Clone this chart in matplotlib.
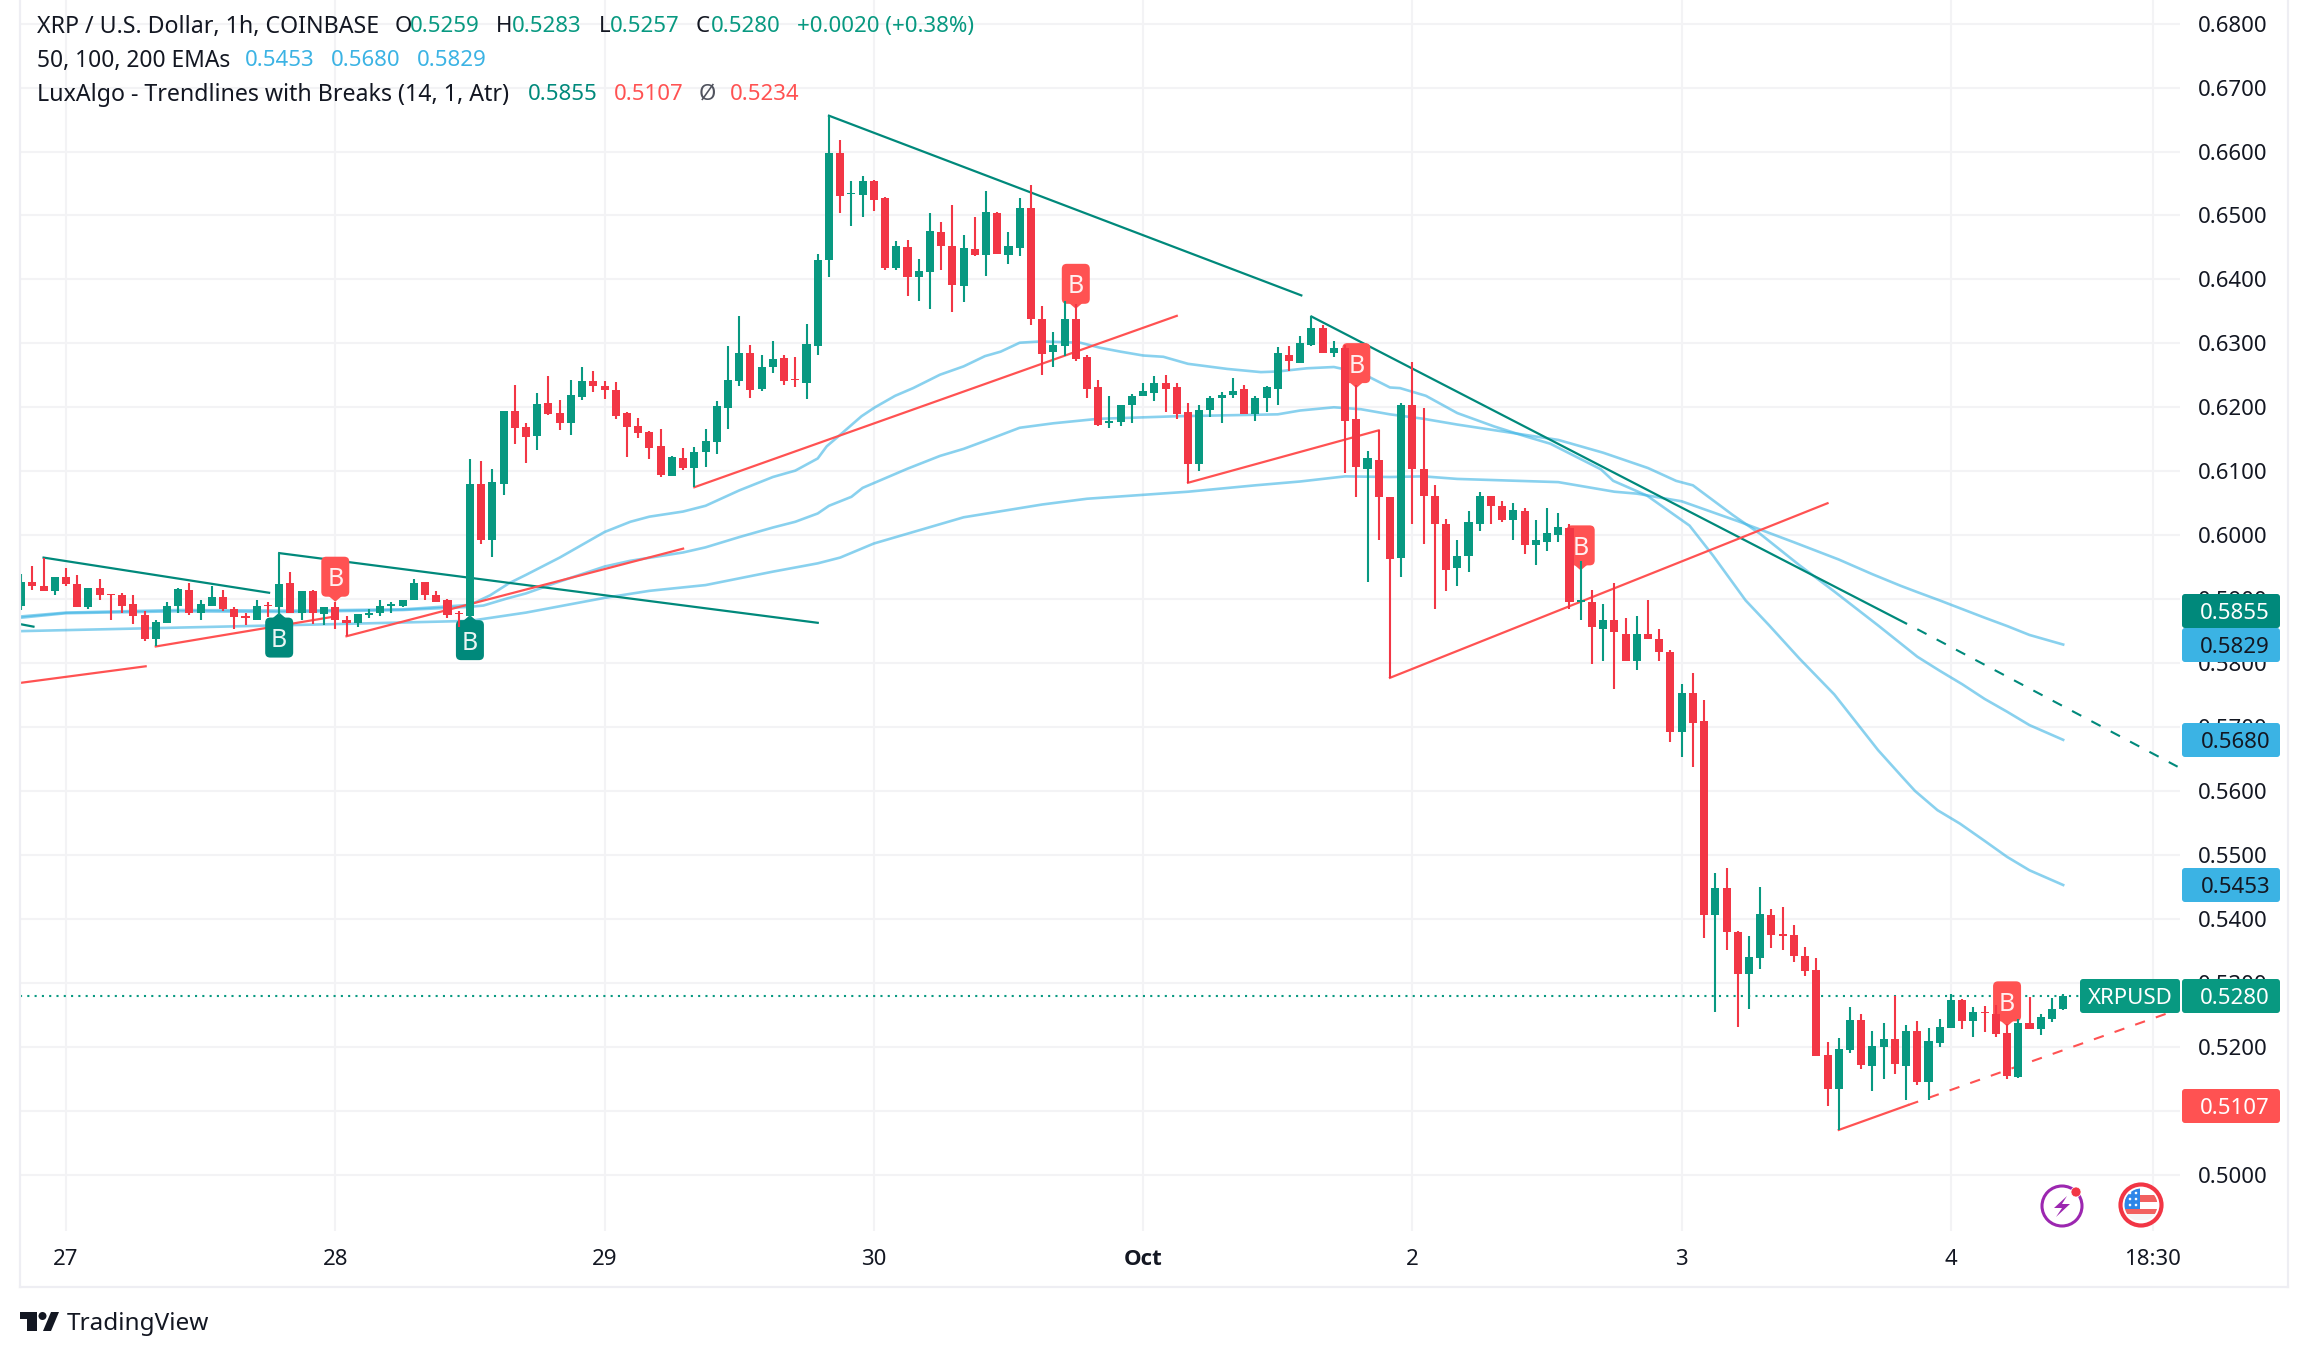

import numpy as np
import matplotlib
matplotlib.use("Agg")
import matplotlib.pyplot as plt
from matplotlib.patches import FancyBboxPatch, Polygon, Circle, Rectangle
from matplotlib.lines import Line2D
from matplotlib.transforms import IdentityTransform

plt.rcParams['font.family'] = ['Noto Sans', 'DejaVu Sans']

W, H = 2308, 1357

# hourly bars, 0 = start of the 27th
first_bar = -4
opens = [.5890, .5927, .5921, .5912, .5934, .5924, .5887, .5918, .5908, .5906,
         .5893, .5875, .5837, .5862, .5889, .5915, .5878, .5890, .5904, .5885,
         .5873, .5868, .5891, .5887, .5926, .5879, .5913, .5876, .5887, .5868,
         .5862, .5875, .5878, .5890, .5889, .5898, .5927, .5907, .5898, .5879,
         .5873, .6080, .5992, .6080, .6194, .6169, .6155, .6207, .6191, .6176,
         .6216, .6241, .6234, .6227, .6191, .6171, .6162, .6140, .6093, .6121,
         .6105, .6130, .6146, .6199, .6241, .6285, .6229, .6263, .6277, .6244,
         .6238, .6296, .6431, .6598, .6533, .6532, .6554, .6528, .6418, .6451,
         .6403, .6412, .6474, .6453, .6390, .6448, .6438, .6504, .6438, .6449,
         .6512, .6338, .6287, .6296, .6338, .6278, .6232, .6176, .6177, .6204,
         .6218, .6223, .6238, .6231, .6192, .6112, .6195, .6214, .6220, .6228,
         .6190, .6214, .6228, .6282, .6270, .6298, .6324, .6285, .6292, .6182,
         .6103, .6118, .6059, .5965, .6203, .6103, .6062, .6017, .5948, .5967,
         .6018, .6062, .6046, .6023, .6038, .5984, .5990, .6001, .6012, .5896,
         .5895, .5854, .5868, .5846, .5804, .5846, .5837, .5817, .5693, .5754,
         .5710, .5406, .5448, .5379, .5314, .5339, .5406, .5376, .5375, .5342,
         .5320, .5187, .5134, .5195, .5242, .5170, .5199, .5212, .5170, .5224,
         .5145, .5206, .5229, .5273, .5240, .5255, .5251, .5221, .5153, .5237,
         .5228, .5243, .5259]
closes = [.5927, .5920, .5912, .5935, .5924, .5887, .5918, .5906, .5906, .5889,
          .5873, .5837, .5864, .5890, .5916, .5878, .5892, .5903, .5884, .5872,
          .5871, .5890, .5890, .5924, .5879, .5913, .5878, .5887, .5867, .5862,
          .5876, .5879, .5889, .5892, .5899, .5926, .5906, .5896, .5875, .5877,
          .6080, .5992, .6083, .6194, .6168, .6154, .6205, .6190, .6176, .6219,
          .6241, .6234, .6227, .6187, .6169, .6160, .6136, .6094, .6122, .6105,
          .6130, .6147, .6202, .6243, .6285, .6227, .6263, .6276, .6241, .6242,
          .6299, .6431, .6598, .6531, .6535, .6554, .6524, .6418, .6453, .6403,
          .6413, .6476, .6453, .6392, .6449, .6438, .6506, .6440, .6453, .6512,
          .6338, .6284, .6298, .6338, .6276, .6229, .6173, .6179, .6204, .6218,
          .6226, .6238, .6229, .6190, .6112, .6196, .6214, .6220, .6226, .6190,
          .6215, .6231, .6285, .6273, .6301, .6324, .6285, .6293, .6179, .6106,
          .6120, .6060, .5963, .6204, .6103, .6062, .6017, .5946, .5968, .6020,
          .6062, .6045, .6024, .6040, .5985, .5992, .6003, .6013, .5896, .5898,
          .5856, .5868, .5848, .5804, .5846, .5837, .5818, .5693, .5753, .5707,
          .5406, .5448, .5379, .5314, .5340, .5407, .5375, .5373, .5342, .5318,
          .5185, .5134, .5196, .5242, .5171, .5201, .5212, .5173, .5224, .5145,
          .5209, .5231, .5273, .5240, .5254, .5253, .5220, .5154, .5237, .5228,
          .5246, .5259, .5280]
highs = [.5939, .5952, .5965, .5935, .5948, .5938, .5918, .5931, .5908, .5910,
         .5906, .5882, .5867, .5896, .5917, .5926, .5898, .5921, .5915, .5887,
         .5878, .5898, .5896, .5972, .5943, .5913, .5915, .5887, .5895, .5873,
         .5876, .5884, .5898, .5896, .5899, .5931, .5927, .5912, .5901, .5881,
         .6119, .6116, .6104, .6194, .6235, .6176, .6223, .6249, .6212, .6243,
         .6263, .6257, .6241, .6240, .6193, .6183, .6163, .6166, .6124, .6136,
         .6138, .6166, .6210, .6296, .6342, .6298, .6282, .6304, .6282, .6279,
         .6331, .6440, .6656, .6618, .6554, .6562, .6556, .6529, .6460, .6462,
         .6432, .6504, .6490, .6517, .6470, .6498, .6539, .6506, .6474, .6528,
         .6548, .6359, .6317, .6367, .6362, .6282, .6243, .6217, .6204, .6221,
         .6238, .6249, .6251, .6238, .6207, .6203, .6217, .6224, .6246, .6235,
         .6217, .6234, .6295, .6296, .6312, .6342, .6329, .6303, .6298, .6235,
         .6131, .6164, .6059, .6207, .6271, .6199, .6079, .6026, .5992, .6038,
         .6067, .6062, .6053, .6051, .6043, .6023, .6042, .6034, .6018, .5960,
         .5914, .5893, .5926, .5871, .5874, .5899, .5854, .5820, .5768, .5785,
         .5742, .5471, .5479, .5381, .5373, .5450, .5415, .5418, .5390, .5356,
         .5339, .5207, .5214, .5262, .5251, .5224, .5237, .5279, .5234, .5240,
         .5229, .5243, .5282, .5275, .5262, .5264, .5265, .5236, .5243, .5278,
         .5251, .5276, .5283]
lows = [.5883, .5915, .5912, .5907, .5921, .5887, .5885, .5899, .5868, .5878,
        .5861, .5834, .5826, .5862, .5878, .5875, .5868, .5890, .5882, .5854,
        .5859, .5868, .5872, .5875, .5878, .5868, .5861, .5859, .5854, .5842,
        .5856, .5870, .5873, .5879, .5887, .5898, .5899, .5896, .5870, .5856,
        .5870, .5986, .5966, .6063, .6143, .6113, .6133, .6188, .6165, .6157,
        .6212, .6224, .6213, .6182, .6122, .6152, .6119, .6091, .6093, .6102,
        .6075, .6107, .6127, .6166, .6234, .6215, .6226, .6254, .6235, .6232,
        .6213, .6282, .6403, .6504, .6484, .6498, .6507, .6415, .6415, .6374,
        .6367, .6353, .6415, .6349, .6365, .6437, .6406, .6440, .6424, .6437,
        .6328, .6251, .6263, .6281, .6273, .6215, .6171, .6167, .6171, .6176,
        .6217, .6210, .6192, .6182, .6082, .6101, .6185, .6176, .6214, .6190,
        .6178, .6193, .6204, .6257, .6270, .6296, .6285, .6278, .6098, .6059,
        .5927, .5992, .5777, .5934, .6017, .5987, .5884, .5912, .5920, .5943,
        .6006, .6018, .6021, .5993, .5970, .5954, .5976, .5990, .5885, .5867,
        .5799, .5804, .5759, .5804, .5789, .5837, .5803, .5676, .5653, .5638,
        .5370, .5254, .5351, .5231, .5259, .5321, .5354, .5351, .5332, .5310,
        .5185, .5107, .5070, .5190, .5165, .5131, .5149, .5157, .5117, .5140,
        .5117, .5199, .5229, .5228, .5215, .5223, .5215, .5149, .5151, .5228,
        .5218, .5239, .5257]

# EMAs read at the bends
ema50_x = [-4, 0, 10, 20, 30, 36, 37.8, 39.5, 41, 43, 44, 45.6, 48, 50.3, 52, 55, 57, 60, 63, 65, 67, 67.8, 69, 70.9,
           72.1, 73.9, 75.5, 77.9, 80, 81.9, 83.3, 85, 86.9, 90.4, 92.2, 94, 96, 97.8, 100, 103.5, 106.5, 108, 110.6,
           113, 115.4, 118, 118.9, 121.2, 124, 127.3, 130, 132.3, 136.8, 137.9, 140.9, 144.7, 146.8, 149.7, 151.8,
           154.5, 157.6, 161.5, 163.5, 164.8, 166.8, 168.8, 171, 173, 175, 178]
ema50_y = [.5873, .5879, .5883, .5882, .5884, .5891, .5906, .5925, .5938, .5956, .5965, .5981, .6005, .6021, .6029, .6037,
           .6046, .6070, .6091, .6101, .6120, .6139, .6157, .6186, .6200, .6218, .6230, .6251, .6264, .6280, .6287, .6301,
           .6303, .6301, .6293, .6287, .6281, .6279, .6268, .6260, .6255, .6256, .6261, .6263, .6254, .6231, .6230, .6218,
           .6191, .6170, .6155, .6143, .6103, .6085, .6062, .6015, .5968, .5898, .5859, .5807, .5751, .5664, .5625, .5600,
           .5570, .5549, .5522, .5497, .5476, .5453]
ema100_x = [-4, 0, 10, 20, 30, 36, 37.2, 39.3, 41, 43.9, 48, 50.3, 55, 57, 60, 63, 65, 67, 68, 70, 71, 72.6, 75, 77.9, 80,
            82, 85, 88, 92, 99, 108, 110, 113, 115.4, 118, 121, 124, 127, 130, 133, 137, 141, 143.5, 145, 148.6, 151,
            154.5, 157.6, 161.5, 163.5, 165, 167, 169, 171, 173, 175, 178]
ema100_y = [.5871, .5878, .5881, .5880, .5883, .5888, .5890, .5901, .5909, .5927, .5951, .5960, .5973, .5981, .5997, .6012,
            .6021, .6034, .6046, .6060, .6074, .6086, .6104, .6124, .6135, .6148, .6168, .6175, .6182, .6186, .6189, .6195,
            .6200, .6197, .6189, .6182, .6173, .6165, .6157, .6149, .6129, .6105, .6085, .6078, .6031, .6002, .5953, .5912,
            .5859, .5831, .5810, .5788, .5767, .5744, .5724, .5703, .5680]
ema200_x = [-4, 24, 36, 41, 48, 52, 57, 63, 67, 69, 72, 80, 87, 91, 100, 106, 110, 114, 118, 121, 124, 133, 138, 140, 144,
            149, 154, 158, 161, 163.5, 165, 167, 171, 173, 175, 178]
ema200_y = [.5850, .5861, .5866, .5879, .5902, .5913, .5922, .5943, .5956, .5965, .5987, .6028, .6048, .6057, .6068, .6078,
            .6084, .6092, .6091, .6092, .6088, .6083, .6068, .6065, .6053, .6022, .5989, .5962, .5939, .5921, .5911, .5898,
            .5871, .5858, .5844, .5829]

# trendlines: (x0, y0, x1, y1)
down_lines = [(-4.1, .5861, -2.9, .5857), (-2, .5965, 18.1, .5910), (19, .5972, 67, .5863),
              (68, .6656, 110.1, .6375), (111, .6342, 164, .5862)]
up_lines = [(-4.1, .5769, 7.1, .5795), (8, .5826, 24, .5873), (25, .5842, 55, .5979),
            (56, .6075, 99, .6343), (100, .6082, 117, .6164), (118, .5777, 157, .6050), (158, .5070, 164.2, .5109)]
down_ext = (165, .5853, 188.2, .5638)
up_ext = (164.2, .5109, 188.2, .5258)

# B labels: bar and price at the tip of the pin
buy_marks = [(19, .5879), (36, .5875)]
sell_marks = [(24, .5896), (90, .6354), (115, .6230), (135, .5945), (173, .5232)]

price_ticks = [.50 + .01 * k for k in range(19)]
day_ticks = [0, 24, 48, 72, 96, 120, 144, 168, 186]
day_labels = ['27', '28', '29', '30', 'Oct', '2', '3', '4', '18:30']

GREEN = '#089981'
RED = '#F23645'
TEAL = '#00897B'
CORAL = '#FF5252'
BLUE = '#3BB3E4'
INK = '#131722'
GRID = '#F3F3F5'
BORDER = '#EEEEF3'

fig = plt.figure(figsize=(W / 100, H / 100), dpi=100, facecolor='white')
pane_l, pane_r, pane_b = 20, 2180, 1231
ax = fig.add_axes([pane_l / W, 1 - pane_b / H, (pane_r - pane_l) / W, pane_b / H])
ax.set_xlim((pane_l - 66) / 11.22, (pane_r - 66) / 11.22)
ax.set_ylim(.5 - (pane_b - 1174.7) / 6395, .5 + 1174.7 / 6395)
for s in ax.spines.values():
    s.set_visible(False)

ax.set_xticks(day_ticks)
ax.set_xticklabels(day_labels)
ax.set_yticks(price_ticks)
ax.set_yticklabels([f'{p:.4f}' for p in price_ticks], va='center_baseline')
ax.yaxis.tick_right()
ax.tick_params(axis='y', length=0, pad=13, labelsize=16, labelcolor=INK)
ax.tick_params(axis='x', length=0, pad=13, labelsize=16, labelcolor=INK)
# Noto Sans has no bold installed here, Open Sans does
oct_label = ax.get_xticklabels()[4]
oct_label.set_family('Open Sans')
oct_label.set_fontweight('bold')
ax.grid(True, color=GRID, lw=1.5)
ax.set_axisbelow(True)

# EMAs
for xs, ys in [(ema50_x, ema50_y), (ema100_x, ema100_y), (ema200_x, ema200_y)]:
    ax.plot(xs, ys, color=BLUE, alpha=.6, lw=1.9, zorder=2)

# trendlines
for x0, y0, x1, y1 in down_lines:
    ax.plot([x0, x1], [y0, y1], color=TEAL, lw=1.6, zorder=2.1)
for x0, y0, x1, y1 in up_lines:
    ax.plot([x0, x1], [y0, y1], color=CORAL, lw=1.6, zorder=2.1)
ax.plot([down_ext[0], down_ext[2]], [down_ext[1], down_ext[3]], color=TEAL, lw=1.5, ls=(0, (5, 5.5)), zorder=2.1)
ax.plot([up_ext[0], up_ext[2]], [up_ext[1], up_ext[3]], color=CORAL, lw=1.5, ls=(0, (5, 5.5)), zorder=2.1)

# last price line
ax.axhline(closes[-1], color=GREEN, lw=1.5, ls=(0, (1, 2.5)), zorder=2.2)


# B flags sit behind the candles
def flag(bar, price, color, below):
    px, py = ax.transData.transform((bar, price))
    t = IdentityTransform()
    if below:
        box_y = py - 45
        pin = [(px - 7, box_y + 39), (px + 7, box_y + 39), (px, py)]
    else:
        box_y = py + 5
        pin = [(px - 7, box_y + 1), (px + 7, box_y + 1), (px, py)]
    ax.add_patch(FancyBboxPatch((px - 13, box_y + 1), 26, 38, boxstyle='round,pad=1,rounding_size=5',
                                fc=color, ec='none', transform=t, zorder=2.5, clip_on=False))
    ax.add_patch(Polygon(pin, fc=color, ec='none', transform=t, zorder=2.5, clip_on=False))
    ax.text(px, box_y + 20, 'B', color='white', fontsize=18, ha='center', va='center_baseline', transform=t,
            zorder=2.6, alpha=.92)


for b, p in buy_marks:
    flag(b, p, TEAL, True)
for b, p in sell_marks:
    flag(b, p, CORAL, False)

# candles
bars = np.arange(first_bar, first_bar + len(opens))
o, h, l, c = np.array(opens), np.array(highs), np.array(lows), np.array(closes)
colors = np.where(c >= o, GREEN, RED)
ax.vlines(bars, l, h, colors=colors, lw=1.5, zorder=3)
ax.bar(bars, np.abs(c - o), bottom=np.minimum(o, c), width=.72, color=colors, zorder=3.1, linewidth=0)


# from here on everything is placed in image pixels
def fy(y):
    return H - y


def ftext(x, y, s, color=INK, size=16, **kw):
    fig.text(x / W, 1 - y / H, s, color=color, fontsize=size, va='center_baseline', **kw)


def price_box(y, s, color, text=INK):
    fig.add_artist(FancyBboxPatch((2183, fy(y) - 16), 96, 32, boxstyle='round,pad=1,rounding_size=3', fc=color,
                                  ec='none', transform=IdentityTransform(), zorder=5))
    fig.text(2270 / W, 1 - y / H, s, color=text, fontsize=16, ha='right', va='center_baseline', zorder=6)


# right side price tags
price_box(611, '0.5855', TEAL, 'white')
price_box(645, '0.5829', BLUE)
price_box(740, '0.5680', BLUE)
price_box(885, '0.5453', BLUE)
price_box(996, '0.5280', GREEN, 'white')
price_box(1106, '0.5107', CORAL, 'white')
fig.add_artist(FancyBboxPatch((2081, fy(996) - 16), 98, 32, boxstyle='round,pad=1,rounding_size=3', fc=GREEN,
                              ec='none', transform=IdentityTransform(), zorder=5))
fig.text(2130 / W, 1 - 996 / H, 'XRPUSD', color='white', fontsize=16, ha='center', va='center_baseline', zorder=6)

# legend rows
ftext(37, 24, 'XRP / U.S. Dollar, 1h, COINBASE', size=16.7)
for x, s, col in [(395, 'O', INK), (410, '0.5259', GREEN), (496, 'H', INK), (512, '0.5283', GREEN), (599, 'L', INK),
                  (610, '0.5257', GREEN), (696, 'C', INK), (711, '0.5280', GREEN), (797, '+0.0020 (+0.38%)', GREEN)]:
    ftext(x, 24, s, col)
ftext(37, 58, '50, 100, 200 EMAs', size=16.4)
for x, s in [(245, '0.5453'), (331, '0.5680'), (417, '0.5829')]:
    ftext(x, 58, s, BLUE)
ftext(37, 92, 'LuxAlgo - Trendlines with Breaks (14, 1, Atr)', size=16.7)
ftext(528, 92, '0.5855', TEAL)
ftext(614, 92, '0.5107', CORAL)
ftext(699, 92, 'Ø', '#50535E')
ftext(730, 92, '0.5234', CORAL)

# outer frame
for xs, ys in [((20, 20), (0, 1287)), ((20, 2288), (1287, 1287)), ((2288, 2288), (0, 1287))]:
    fig.add_artist(Line2D(xs, [fy(v) for v in ys], color=BORDER, lw=1.6, transform=IdentityTransform(), zorder=4))

# TradingView logo
t = IdentityTransform()
fig.add_artist(Polygon([(20, fy(1312)), (37, fy(1312)), (37, fy(1331)), (27, fy(1331)), (27, fy(1319)), (20, fy(1319))],
                       fc=INK, ec='none', transform=t))
fig.add_artist(Circle((42.5, fy(1316)), 4, fc=INK, ec='none', transform=t))
fig.add_artist(Polygon([(51, fy(1312)), (59, fy(1312)), (51, fy(1331)), (43, fy(1331))], fc=INK, ec='none', transform=t))
ftext(67, 1321, 'TradingView', size=17.5)

# bolt icon
fig.add_artist(Circle((2062, fy(1206)), 20, fc='white', ec='#9C27B0', lw=2.2, transform=t, zorder=4))
fig.add_artist(Polygon([(2067, fy(1196)), (2054, fy(1208)), (2062, fy(1208)), (2056, fy(1217)), (2070, fy(1204)),
                        (2062, fy(1204))], fc='#9C27B0', ec='none', transform=t, zorder=4.1))
fig.add_artist(Circle((2076, fy(1192)), 5, fc=RED, ec='white', lw=.5, transform=t, zorder=4.2))

# flag icon
fig.add_artist(Circle((2141, fy(1205)), 20.5, fc='white', ec=RED, lw=3, transform=t, zorder=4))
clip = Circle((2141, fy(1205)), 16.5, transform=t)
stripes = [((2124, fy(1195)), 36, 7, '#F26060'), ((2124, fy(1214)), 36, 6, '#F5F5F7'), ((2124, fy(1222)), 36, 8, '#F05050'),
           ((2124, fy(1209)), 36, 5, '#F26060'), ((2124, fy(1188)), 16, 21, '#2E86E8')]
for xy, w_, h_, col in stripes:
    r = Rectangle(xy, w_, -h_, fc=col, ec='none', transform=t, zorder=4.1)
    fig.add_artist(r)
    r.set_clip_path(clip)
for sx in (2130, 2136):
    for sy in (1193, 1199, 1205):
        fig.add_artist(Circle((sx, fy(sy)), 1.3, fc='white', ec='none', transform=t, zorder=4.2))

fig.savefig('out.png', dpi=100, facecolor='white')
